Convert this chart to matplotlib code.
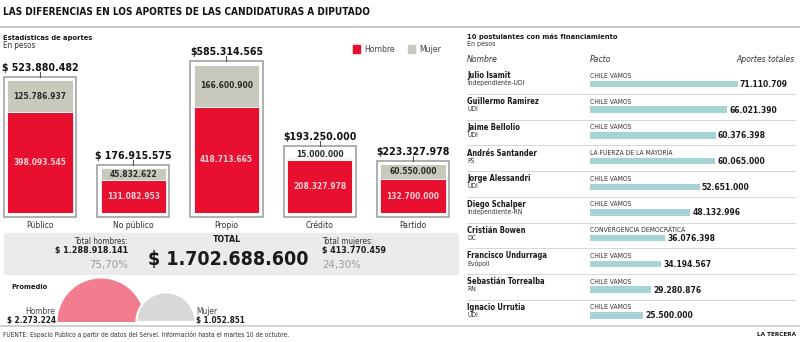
import numpy as np
import matplotlib
matplotlib.use('Agg')
from matplotlib import pyplot as plt
from matplotlib.patches import Rectangle, Wedge

# condensed face to get closer to the narrow newspaper type
plt.rcParams['font.family'] = 'DejaVu Sans'
plt.rcParams['font.stretch'] = 'condensed'

W, H = 800, 342

# Estadisticas de aportes (pesos)
categorias = ['Público', 'No público', 'Propio', 'Crédito', 'Partido']
hombres = np.array([398093545, 131082953, 418713665, 208327978, 132700000])
mujeres = np.array([125786937, 45832622, 166600900, 15000000, 60550000])
totales_txt = ['$ 523.880.482', '$ 176.915.575', '$585.314.565', '$193.250.000', '$223.327.978']

total_hombres = 1288918141
total_mujeres = 413770459
total_general = 1702688600
pct_hombres = '75,70%'
pct_mujeres = '24,30%'
promedio_hombre = 2273224
promedio_mujer = 1052851

# 10 postulantes con mas financiamiento
nombres = ['Julio Isamit', 'Guillermo Ramirez', 'Jaime Bellolio', 'Andrés Santander',
           'Jorge Alessandri', 'Diego Schalper', 'Cristián Bowen', 'Francisco Undurraga',
           'Sebastián Torrealba', 'Ignacio Urrutia']
partidos = ['Independiente-UDI', 'UDI', 'UDI', 'PS', 'UDI', 'Independiente-RN', 'DC',
            'Evópoli', 'RN', 'UDI']
pactos = ['CHILE VAMOS', 'CHILE VAMOS', 'CHILE VAMOS', 'LA FUERZA DE LA MAYORÍA',
          'CHILE VAMOS', 'CHILE VAMOS', 'CONVERGENCIA DEMOCRÁTICA', 'CHILE VAMOS',
          'CHILE VAMOS', 'CHILE VAMOS']
aportes = np.array([71110709, 66021390, 60376398, 60065000, 52651000, 48132996,
                    36076398, 34194567, 29280876, 25500000])

rojo = '#e8102e'
gris = '#c9c8bc'
colores_mujer = [gris, gris, gris, '#f7f7f3', gris]
teal = '#a6d3d3'
negro = '#1a1a1a'
oscuro = '#333333'


def miles(v):
    return f'{v:,}'.replace(',', '.')


fig = plt.figure(figsize=(W / 100, H / 100), dpi=100)
fig.patch.set_facecolor('white')

# overlay in pixel coordinates for the infographic furniture
ov = fig.add_axes([0, 0, 1, 1])
ov.set_xlim(0, W)
ov.set_ylim(H, 0)
ov.axis('off')

ov.text(3, 12, 'LAS DIFERENCIAS EN LOS APORTES DE LAS CANDIDATURAS A DIPUTADO',
        fontsize=7.2, fontweight='bold', color='#111111', va='center')
ov.plot([0, W], [27, 27], color='#c8c8c8', lw=1.5)
ov.plot([0, W], [326, 326], color='#c8c8c8', lw=1.2)

ov.text(3, 38, 'Estadísticas de aportes', fontsize=5.4, fontweight='bold', color=negro, va='center')
ov.text(3, 46, 'En pesos', fontsize=5.8, color=oscuro, va='center')

# legend
ov.add_patch(Rectangle((353, 45), 7, 8, color=rojo))
ov.text(364, 49.5, 'Hombre', fontsize=6.2, color='#444444', va='center')
ov.add_patch(Rectangle((408, 45), 7, 8, color=gris))
ov.text(419, 49.5, 'Mujer', fontsize=6.2, color='#444444', va='center')

# totals box
ov.add_patch(Rectangle((4, 233), 454, 41, color='#ebebeb', zorder=0))
ov.text(128, 241, 'Total hombres:', fontsize=5.9, color=oscuro, ha='right', va='center')
ov.text(128, 251, '$ ' + miles(total_hombres), fontsize=6.4, fontweight='bold', color=negro,
        ha='right', va='center')
ov.text(128, 265, pct_hombres, fontsize=8.2, color='#9a9a9a', ha='right', va='center')
ov.text(227, 240, 'TOTAL', fontsize=6.3, fontweight='bold', color=negro, ha='center', va='center')
ov.text(228, 259, '$ ' + miles(total_general), fontsize=14, fontweight='bold', color=negro,
        ha='center', va='center')
ov.text(322, 241, 'Total mujeres:', fontsize=5.9, color=oscuro, ha='left', va='center')
ov.text(322, 251, '$ ' + miles(total_mujeres), fontsize=6.4, fontweight='bold', color=negro,
        ha='left', va='center')
ov.text(322, 265, pct_mujeres, fontsize=8.2, color='#9a9a9a', ha='left', va='center')

# promedio half circles, area proportional
ov.text(11, 287, 'Promedio', fontsize=5.4, fontweight='bold', color=negro, va='center')
k = 43.5 / np.sqrt(promedio_hombre)
r_h = k * np.sqrt(promedio_hombre)
r_m = k * np.sqrt(promedio_mujer)
base = 322
ov.add_patch(Wedge((101, base), r_h, 180, 360, color='#f27d8e', lw=0))
ov.add_patch(Wedge((166, base), r_m, 180, 360, facecolor='#d8d8d8', edgecolor='white', lw=1.5))
ov.text(55, 311, 'Hombre', fontsize=6, color='#444444', ha='right', va='center')
ov.text(56, 320, '$ ' + miles(promedio_hombre), fontsize=5.9, fontweight='bold', color=negro,
        ha='right', va='center')
ov.text(196, 311, 'Mujer', fontsize=6, color='#444444', ha='left', va='center')
ov.text(196, 320, '$ ' + miles(promedio_mujer), fontsize=5.9, fontweight='bold', color=negro,
        ha='left', va='center')

ov.text(3, 334, 'FUENTE: Espacio Público a partir de datos del Servel. Información hasta el martes 10 de octubre.',
        fontsize=4.7, color=oscuro, va='center')
ov.text(796, 334, 'LA TERCERA', fontsize=4.6, fontweight='bold', color=negro, ha='right', va='center')

# right panel headers and rows
ov.text(467, 37, '10 postulantes con más financiamiento', fontsize=5.4, fontweight='bold',
        color=negro, va='center')
ov.text(467, 44, 'En pesos', fontsize=5, color=oscuro, va='center')
ov.text(467, 59, 'Nombre', fontsize=6.2, style='italic', color=oscuro, va='center')
ov.text(590, 59, 'Pacto', fontsize=6.2, style='italic', color=oscuro, va='center')
ov.text(795, 59, 'Aportes totales', fontsize=6.1, style='italic', color=oscuro, ha='right', va='center')

row0, paso = 76, 25.7
for i in range(len(nombres)):
    y = row0 + paso * i
    ov.text(467, y, nombres[i], fontsize=5.5, fontweight='bold', color=negro, va='center')
    ov.text(467, y + 7.5, partidos[i], fontsize=4.9, color=oscuro, va='center')
    ov.text(590, y, pactos[i], fontsize=4.9, color=oscuro, va='center')
    if i < len(nombres) - 1:
        ov.plot([467, 795], [y + 18, y + 18], color='#d0d0d0', lw=0.6)

# stacked bars (left)
PXV = 3.95e6
bar_bottom_px, bar_top_px = 213, 33
axb = fig.add_axes([0, (H - bar_bottom_px) / H, 466 / W, (bar_bottom_px - bar_top_px) / H])
axb.set_xlim(-40 / 93.25, (466 - 40) / 93.25)
axb.set_ylim(0, (bar_bottom_px - bar_top_px) * PXV)
axb.patch.set_alpha(0)
for s in axb.spines.values():
    s.set_visible(False)
axb.set_yticks([])

x = np.arange(len(categorias))
tot = hombres + mujeres
seg_top = np.maximum(tot, hombres + 11 * PXV)
frame_top = seg_top + 3.5 * PXV
axb.bar(x, frame_top + 4 * PXV, bottom=-4 * PXV, width=0.775, color='white',
        edgecolor='#9a9a9a', lw=1.1, clip_on=False, zorder=1)
axb.bar(x, hombres, width=0.70, color=rojo, edgecolor='white', lw=0.6, zorder=2)
axb.bar(x, mujeres, bottom=hombres, width=0.70, color=colores_mujer, edgecolor='white',
        lw=0.6, zorder=2)

for i in range(len(categorias)):
    axb.text(x[i], hombres[i] / 2, miles(hombres[i]), color='#fbd3d9', fontsize=6,
             fontweight='bold', ha='center', va='center', zorder=3)
    axb.text(x[i], (hombres[i] + seg_top[i]) / 2, miles(mujeres[i]), color='#2a2a2a',
             fontsize=6, fontweight='bold', ha='center', va='center', zorder=3)
    axb.plot([x[i], x[i]], [frame_top[i], frame_top[i] + 5 * PXV], color='#555555', lw=0.8,
             clip_on=False, zorder=3)
    axb.text(x[i], frame_top[i] + 6 * PXV, totales_txt[i], fontsize=7.6, fontweight='bold',
             color='#111111', ha='center', va='baseline', clip_on=False, zorder=3)

axb.set_xticks(x)
axb.set_xticklabels(categorias, fontsize=6.1, color=oscuro)
axb.tick_params(axis='x', length=0, pad=6)

# horizontal bars (right)
PXH = 1e6 / 2.08
axr_top = row0 + 8 - paso
axr_bottom = row0 + 8 + paso * len(nombres)
axr = fig.add_axes([590 / W, (H - axr_bottom) / H, 210 / W, (axr_bottom - axr_top) / H])
axr.set_xlim(0, 210 * PXH)
axr.set_ylim(len(nombres), -1)
axr.axis('off')
axr.patch.set_alpha(0)
y = np.arange(len(nombres))
axr.barh(y, aportes, height=0.25, color=teal)
for i in range(len(nombres)):
    axr.annotate(miles(aportes[i]), (aportes[i], y[i]), xytext=(1.5, -0.3), textcoords='offset points',
                 fontsize=6.1, fontweight='bold', color=negro, ha='left', va='center')

fig.savefig('out.png', dpi=100, facecolor='white')
